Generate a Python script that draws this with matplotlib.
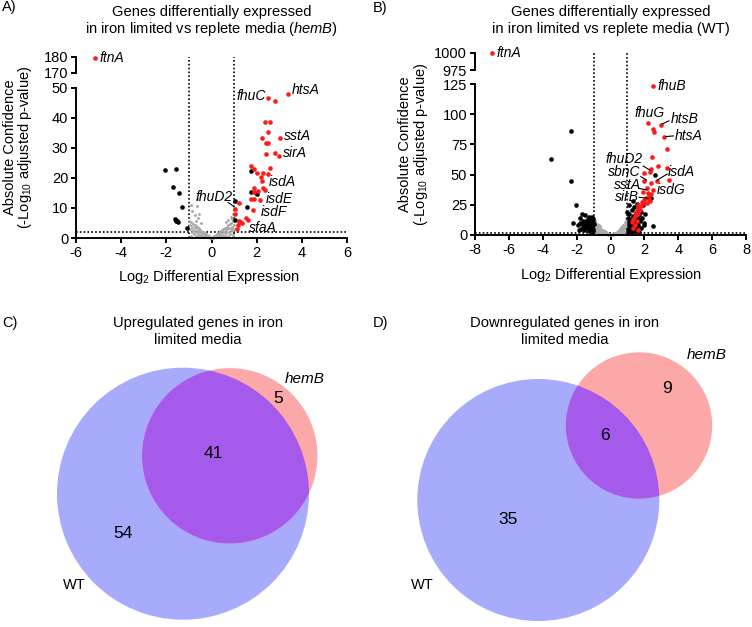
import matplotlib
matplotlib.use('Agg')
import matplotlib.pyplot as plt
import numpy as np
from matplotlib.patches import Circle

plt.rcParams['font.family'] = ['Liberation Sans', 'DejaVu Sans']
plt.rcParams['mathtext.fontset'] = 'custom'
plt.rcParams['mathtext.rm'] = 'Liberation Sans'
plt.rcParams['mathtext.it'] = 'Liberation Sans:italic'
plt.rcParams['axes.unicode_minus'] = False

# ---- panel A data (hemB), log2 fold change / -log10 adj p ----
hemb_red = [(3.38, 48.0), (2.50, 46.5), (2.79, 45.5), (2.39, 38.4), (2.58, 38.4), (2.48, 35.1),
            (3.03, 33.1), (2.25, 33.3), (2.41, 31.6), (2.48, 31.6), (2.81, 28.4), (3.0, 27.3),
            (2.42, 27.9), (1.76, 24.0), (2.57, 23.3), (1.88, 22.8), (2.02, 21.6), (2.29, 21.6),
            (2.48, 21.4), (2.17, 20.4), (2.25, 19.0), (1.88, 16.7), (2.30, 16.5), (2.36, 15.9),
            (2.07, 15.7), (1.88, 15.2), (1.74, 13.1), (1.88, 12.9), (2.14, 12.7), (1.23, 11.5),
            (1.05, 9.6), (1.83, 9.2), (1.03, 7.9), (1.54, 6.7), (1.61, 6.0), (1.20, 5.8),
            (1.28, 5.3), (1.37, 4.9), (1.18, 4.3), (1.12, 3.0)]
hemb_black = [(-2.05, 22.6), (-1.58, 22.9), (-1.70, 16.8), (-1.45, 15.0), (-1.29, 10.4),
              (-1.60, 6.4), (-1.55, 6.0), (-1.52, 5.6), (-1.49, 5.3), (-1.57, 5.8), (-1.08, 3.4),
              (1.73, 22.1), (1.74, 15.4), (1.96, 15.0), (2.02, 14.6), (1.55, 10.2), (1.05, 12.2),
              (1.05, 5.9)]
hemb_grey = [(-0.05, 0.2), (-0.1, 0.5), (-0.15, 0.3), (-0.2, 0.9), (-0.22, 0.4), (-0.25, 1.2),
             (-0.3, 0.7), (-0.3, 1.6), (-0.35, 1.1), (-0.38, 2.0), (-0.4, 0.5), (-0.42, 1.5),
             (-0.45, 2.4), (-0.48, 1.0), (-0.5, 2.8), (-0.52, 1.9), (-0.55, 0.8), (-0.55, 3.2),
             (-0.58, 2.4), (-0.6, 1.4), (-0.62, 3.6), (-0.65, 2.8), (-0.68, 0.6), (-0.68, 4.0),
             (-0.7, 2.0), (-0.72, 3.3), (-0.75, 4.4), (-0.78, 1.2), (-0.8, 2.8), (-0.82, 4.8),
             (-0.85, 3.6), (-0.88, 2.0), (-0.9, 5.2), (-0.92, 0.8), (-0.95, 4.2), (-0.97, 2.9),
             (-0.98, 5.8), (-0.6, 6.5), (-0.75, 7.5), (-0.85, 9.0), (-0.65, 10.5), (-0.55, 8.0),
             (-0.62, 13.0), (-0.9, 11.0), (-0.45, 5.0), (-0.7, 5.5), (0.0, 0.05), (-0.08, 0.1),
             (0.08, 0.1), (0.05, 0.3), (0.1, 0.2), (0.12, 0.6), (0.18, 0.9), (0.2, 0.3),
             (0.25, 1.3), (0.28, 0.7), (0.32, 1.8), (0.35, 1.0), (0.38, 2.2), (0.4, 0.5),
             (0.44, 1.6), (0.46, 2.6), (0.5, 1.1), (0.52, 3.0), (0.55, 2.0), (0.58, 0.8),
             (0.6, 3.4), (0.62, 2.5), (0.65, 1.5), (0.68, 3.8), (0.7, 2.9), (0.72, 0.7),
             (0.74, 4.2), (0.76, 2.1), (0.78, 3.4), (0.8, 4.6), (0.82, 1.3), (0.85, 3.0),
             (0.87, 5.0), (0.9, 3.8), (0.92, 2.2), (0.94, 5.5), (0.96, 1.0), (0.98, 4.4),
             (1.0, 3.0), (0.75, 6.0), (0.88, 7.0), (0.95, 8.0), (0.65, 5.2), (0.9, 6.2)]
hemb_top = [(-5.17, 179.4)]  # ftnA, above the axis break

# ---- panel B data (WT) ----
wt_red = [(2.48, 123.3), (2.22, 93.0), (2.97, 91.1), (2.48, 87.5), (2.56, 85.5), (3.15, 80.9),
          (3.31, 71.2), (2.46, 64.3), (2.81, 57.4), (3.35, 55.2), (2.42, 54.4), (1.95, 51.0),
          (2.33, 51.9), (3.46, 45.5), (1.97, 45.0), (2.76, 45.0), (2.42, 42.8), (2.13, 38.6),
          (2.48, 37.3), (1.89, 35.9), (2.2, 34.5), (2.3, 33.5), (2.4, 34.0), (2.1, 30.5),
          (2.0, 29.0), (2.25, 29.5), (2.35, 28.5), (1.85, 27.0), (2.0, 26.5), (2.15, 26.8),
          (1.65, 24.8), (1.83, 24.0), (1.6, 22.0), (1.72, 21.0), (1.5, 19.0), (1.6, 17.5),
          (1.42, 15.5), (1.35, 13.0), (1.55, 12.0), (1.25, 10.5), (1.45, 8.0), (1.3, 6.0),
          (1.6, 4.0)]
wt_black = [(-2.35, 86.3), (-3.49, 62.7), (-2.31, 45.0), (-2.01, 24.8), (-2.21, 9.7),
            (-1.02, 3.0), (-1.05, 5.0), (-1.08, 7.2), (-1.1, 9.5), (-1.12, 11.8), (-1.05, 13.5),
            (-1.15, 4.2), (-1.18, 6.5), (-1.2, 8.8), (-1.22, 12.6), (-1.25, 15.0), (-1.28, 3.5),
            (-1.3, 10.5), (-1.32, 6.0), (-1.35, 13.2), (-1.38, 8.0), (-1.4, 4.8), (-1.45, 11.2),
            (-1.48, 16.2), (-1.5, 6.8), (-1.55, 9.6), (-1.58, 3.8), (-1.62, 12.0), (-1.65, 7.5),
            (-1.7, 17.6), (-1.72, 5.2), (-1.78, 10.2), (-1.82, 14.0), (-1.85, 4.0), (-1.9, 8.0),
            (-1.12, 2.6), (-1.0, 9.0), (-1.02, 11.0), (-1.08, 14.8),
            (1.02, 2.5), (1.05, 5.0), (1.08, 8.0), (1.1, 11.0), (1.05, 14.0), (1.12, 17.0),
            (1.15, 3.8), (1.18, 6.6), (1.2, 9.8), (1.22, 13.2), (1.25, 20.5), (1.28, 2.2),
            (1.3, 16.0), (1.32, 5.6), (1.35, 11.6), (1.38, 8.4), (1.4, 23.0), (1.42, 3.2),
            (1.45, 14.6), (1.48, 18.4), (1.5, 6.8), (1.52, 10.8), (1.55, 26.0), (1.58, 4.4),
            (1.6, 13.0), (1.62, 21.0), (1.65, 8.6), (1.68, 16.8), (1.7, 2.8), (1.72, 11.6),
            (1.78, 19.2), (1.8, 6.0), (1.85, 14.0), (1.9, 24.5), (1.95, 9.6), (1.99, 8.3),
            (2.05, 17.5), (1.1, 25.0), (1.0, 19.0), (1.3, 28.0),
            (2.60, 49.7), (2.38, 30.9), (2.48, 7.5)]
wt_grey = [(-0.05, 0.3), (-0.1, 0.8), (-0.15, 0.4), (-0.2, 1.5), (-0.25, 0.7), (-0.28, 2.2),
           (-0.32, 1.2), (-0.35, 3.0), (-0.38, 1.8), (-0.42, 3.8), (-0.45, 0.9), (-0.48, 2.8),
           (-0.5, 4.5), (-0.53, 1.6), (-0.56, 5.2), (-0.58, 3.4), (-0.6, 0.8), (-0.62, 6.0),
           (-0.65, 4.2), (-0.68, 2.2), (-0.7, 6.8), (-0.72, 5.0), (-0.75, 1.2), (-0.77, 7.5),
           (-0.8, 3.6), (-0.82, 5.8), (-0.85, 8.2), (-0.87, 2.0), (-0.9, 6.6), (-0.92, 9.0),
           (-0.94, 4.4), (-0.96, 7.6), (-0.98, 10.0), (-0.99, 1.5), (-0.9, 11.5), (-0.95, 13.8),
           (-0.8, 9.5), (-0.7, 8.5), (-0.6, 7.2), (-0.98, 12.5),
           (0.05, 0.2), (0.1, 0.6), (0.15, 0.3), (0.2, 1.3), (0.24, 0.6), (0.28, 2.0),
           (0.32, 1.0), (0.36, 2.8), (0.4, 1.6), (0.43, 3.6), (0.46, 0.8), (0.5, 2.6),
           (0.52, 4.4), (0.55, 1.4), (0.58, 5.0), (0.6, 3.2), (0.63, 0.7), (0.65, 5.8),
           (0.68, 4.0), (0.7, 2.0), (0.72, 6.6), (0.75, 4.8), (0.77, 1.1), (0.8, 7.4),
           (0.82, 3.4), (0.85, 5.6), (0.87, 8.2), (0.9, 2.2), (0.92, 6.4), (0.94, 9.0),
           (0.96, 4.2), (0.98, 7.8), (1.0, 10.2), (0.97, 12.4), (0.92, 13.6), (0.85, 10.6),
           (0.75, 8.6), (0.62, 7.0), (0.95, 11.2), (0.99, 6.0)]
wt_top = [(-6.98, 999.5)]  # ftnA

# ---- Venn counts ----
up_counts = {'wt_only': 54, 'both': 41, 'hemb_only': 5}
down_counts = {'wt_only': 35, 'both': 6, 'hemb_only': 9}

W, H = 752, 627
RED, GREY = '#ff1a1a', '#ababab'
BLUE_V, RED_V, PURPLE_V = '#a8aafc', '#fca8a8', '#a65aec'
LW = 1.4
DOT = (0, (1.0, 1.3))

fig = plt.figure(figsize=(W / 100, H / 100), dpi=100)


def box(l, r, t, b):
    return [l / W, 1 - b / H, (r - l) / W, (b - t) / H]


def xy(pts):
    a = np.array(pts)
    return a[:, 0], a[:, 1]


def volcano(lx, rx, top_up, bot_up, top_lo, bot_lo, xlim, xticks, ylo, yticks_lo, yhi,
            red, black, grey, top_pts, thr):
    ax = fig.add_axes(box(lx, rx, top_lo, bot_lo))
    axu = fig.add_axes(box(lx, rx, top_up, bot_up))
    for a in (ax, axu):
        for s in ('top', 'right'):
            a.spines[s].set_visible(False)
        a.spines['left'].set_linewidth(LW)
        a.tick_params(direction='out', length=3.6, width=LW, labelsize=10.5, pad=2)
        a.set_xlim(*xlim)
        a.patch.set_visible(False)
    ax.spines['bottom'].set_linewidth(LW)
    ax.set_ylim(*ylo)
    ax.set_yticks(yticks_lo)
    ax.set_xticks(xticks)
    axu.spines['bottom'].set_visible(False)
    axu.set_xticks([])
    axu.set_ylim(*yhi)
    axu.set_yticks(yhi)

    gx, gy = xy(grey)
    ax.scatter(gx, gy, s=4.5, c=GREY, linewidths=0, clip_on=False, zorder=2)
    bx, by = xy(black)
    ax.scatter(bx, by, s=11, c='k', linewidths=0, clip_on=False, zorder=3)
    rx_, ry = xy(red)
    ax.scatter(rx_, ry, s=11, c=RED, linewidths=0, clip_on=False, zorder=4)
    tx, ty = xy(top_pts)
    axu.scatter(tx, ty, s=11, c=RED, linewidths=0, clip_on=False, zorder=4)

    ax.axhline(thr, color='k', lw=1.2, ls=DOT, zorder=1)
    yfrac = (bot_lo - top_up) / (bot_lo - top_lo)
    for v in (-1, 1):
        ax.plot([v, v], [0, yfrac], transform=ax.get_xaxis_transform(), color='k',
                lw=1.2, ls=DOT, clip_on=False, zorder=1)
    return ax, axu


def ylabel(xc1, xc2, yc):
    fig.text(xc1 / W, 1 - yc / H, 'Absolute Confidence', rotation=90, ha='center',
             va='center', fontsize=10.5)
    fig.text(xc2 / W, 1 - yc / H, '(-Log$_{10}$ adjusted p-value)', rotation=90,
             ha='center', va='center', fontsize=10.5)


def gene(ax, txt, x, y, ha='left'):
    ax.text(x, y, txt, fontstyle='italic', fontsize=10, ha=ha, va='center', zorder=5)


def leader(ax, x1, y1, x2, y2):
    ax.plot([x1, x2], [y1, y2], color='k', lw=0.8, zorder=5, clip_on=False)


# ---- A ----
axA, axAu = volcano(76, 347, 57, 73, 87.5, 238, (-6, 6), np.arange(-6, 7, 2),
                    (0, 50), np.arange(0, 51, 10), (170, 180),
                    hemb_red, hemb_black, hemb_grey, hemb_top, 2)
gene(axAu, 'ftnA', -4.96, 179.4)
gene(axA, 'htsA', 3.57, 49.3)
gene(axA, 'fhuC', 2.42, 47.1, 'right')
gene(axA, 'sstA', 3.22, 34.0)
gene(axA, 'sirA', 3.15, 28.1)
gene(axA, 'isdA', 2.54, 18.6)
gene(axA, 'isdE', 2.42, 13.1)
gene(axA, 'isdF', 2.17, 8.8)
gene(axA, 'sfaA', 1.65, 3.2)
gene(axA, 'fhuD2', 0.92, 13.6, 'right')
leader(axA, 0.74, 11.8, 0.99, 10.5)

# ---- B ----
axB, axBu = volcano(475, 746, 53, 70, 84, 235, (-8, 8), np.arange(-8, 9, 2),
                    (0, 125), np.arange(0, 126, 25), (975, 1000),
                    wt_red, wt_black, wt_grey, wt_top, 2)
gene(axBu, 'ftnA', -6.74, 999.5)
gene(axB, 'fhuB', 2.78, 123.3)
gene(axB, 'fhuG', 2.33, 100.7, 'center')
gene(axB, 'htsB', 3.55, 95.8)
leader(axB, 3.05, 91.9, 3.45, 94.5)
gene(axB, 'htsA', 3.8, 82.0)
leader(axB, 3.27, 81.5, 3.72, 82.0)
gene(axB, 'fhuD2', 1.89, 62.6, 'right')
leader(axB, 1.93, 57.1, 2.32, 53.8)
gene(axB, 'sbnC', 1.79, 52.2, 'right')
leader(axB, 1.79, 48.3, 2.13, 45.5)
gene(axB, 'sstA', 1.79, 41.8, 'right')
leader(axB, 1.69, 38.6, 2.13, 37.3)
gene(axB, 'sirB', 1.70, 31.4, 'right')
leader(axB, 1.69, 31.2, 2.22, 30.4)
gene(axB, 'isdA', 3.41, 52.4)
leader(axB, 3.35, 50.5, 2.76, 45.5)
gene(axB, 'isdG', 2.72, 37.3)

# axis titles / labels for the volcano plots
fig.text(211.5 / W, 1 - 12.3 / H, 'Genes differentially expressed', ha='center', va='center', fontsize=10.6)
fig.text(211.5 / W, 1 - 28.5 / H, 'in iron limited vs replete media ($\\it{hemB}$)', ha='center',
         va='center', fontsize=10.6)
fig.text(610.5 / W, 1 - 12.3 / H, 'Genes differentially expressed', ha='center', va='center', fontsize=10.6)
fig.text(610.5 / W, 1 - 28.5 / H, 'in iron limited vs replete media (WT)', ha='center',
         va='center', fontsize=10.6)
fig.text(209 / W, 1 - 277 / H, 'Log$_2$ Differential Expression', ha='center', va='center', fontsize=10.5)
fig.text(611 / W, 1 - 275 / H, 'Log$_2$ Differential Expression', ha='center', va='center', fontsize=10.5)
ylabel(10, 25, 147.5)
ylabel(405, 421, 144)

# ---- Venn diagrams (area proportional) ----
axV = fig.add_axes([0, 0, 1, 1], zorder=-1)
axV.set_xlim(0, W)
axV.set_ylim(H, 0)
axV.axis('off')


def lens_area(r1, r2, d):
    if d >= r1 + r2:
        return 0.0
    if d <= abs(r1 - r2):
        return np.pi * min(r1, r2) ** 2
    a1 = r1 ** 2 * np.arccos((d ** 2 + r1 ** 2 - r2 ** 2) / (2 * d * r1))
    a2 = r2 ** 2 * np.arccos((d ** 2 + r2 ** 2 - r1 ** 2) / (2 * d * r2))
    a3 = 0.5 * np.sqrt((-d + r1 + r2) * (d + r1 - r2) * (d - r1 + r2) * (d + r1 + r2))
    return a1 + a2 - a3


def venn(counts, center, r_big, angle):
    n_wt = counts['wt_only'] + counts['both']
    n_hb = counts['hemb_only'] + counts['both']
    r_small = r_big * np.sqrt(n_hb / n_wt)
    target = counts['both'] / n_wt * np.pi * r_big ** 2
    lo, hi = abs(r_big - r_small), r_big + r_small
    for _ in range(60):
        mid = (lo + hi) / 2
        if lens_area(r_big, r_small, mid) > target:
            lo = mid
        else:
            hi = mid
    d = (lo + hi) / 2
    th = np.deg2rad(angle)
    c2 = (center[0] + d * np.cos(th), center[1] - d * np.sin(th))
    big = Circle(center, r_big, fc=BLUE_V, ec='none')
    small = Circle(c2, r_small, fc=RED_V, ec='none')
    over = Circle(c2, r_small, fc=PURPLE_V, ec='none')
    axV.add_patch(big)
    axV.add_patch(small)
    axV.add_patch(over)
    over.set_clip_path(big)


venn(up_counts, (183, 493.7), 126, 39)
venn(down_counts, (538.3, 500), 121, 36.5)

vt = dict(ha='center', va='center')
axV.text(213.3, 453.3, str(up_counts['both']), fontsize=12.5, **vt)
axV.text(277.7, 398.3, str(up_counts['hemb_only']), fontsize=12.5, **vt)
axV.text(123.3, 533.3, str(up_counts['wt_only']), fontsize=12.5, **vt)
axV.text(74, 585, 'WT', fontsize=10.5, **vt)
axV.text(305, 379, 'hemB', fontsize=11, fontstyle='italic', **vt)
axV.text(667, 388.3, str(down_counts['hemb_only']), fontsize=12.5, **vt)
axV.text(605, 436, str(down_counts['both']), fontsize=12.5, **vt)
axV.text(507.7, 520, str(down_counts['wt_only']), fontsize=12.5, **vt)
axV.text(422.7, 585, 'WT', fontsize=10.5, **vt)
axV.text(706.7, 355, 'hemB', fontsize=11, fontstyle='italic', **vt)
axV.text(197.7, 322.7, 'Upregulated genes in iron', fontsize=10.6, **vt)
axV.text(197.7, 340, 'limited media', fontsize=10.6, **vt)
axV.text(565, 322.7, 'Downregulated genes in iron', fontsize=10.6, **vt)
axV.text(565, 340, 'limited media', fontsize=10.6, **vt)

# panel letters
for lab, px, py in (('A)', 2, 7.5), ('B)', 373, 8), ('C)', 2, 323), ('D)', 373, 323)):
    axV.text(px, py, lab, fontsize=10.5, ha='left', va='center')

fig.savefig('out.png', dpi=100)
